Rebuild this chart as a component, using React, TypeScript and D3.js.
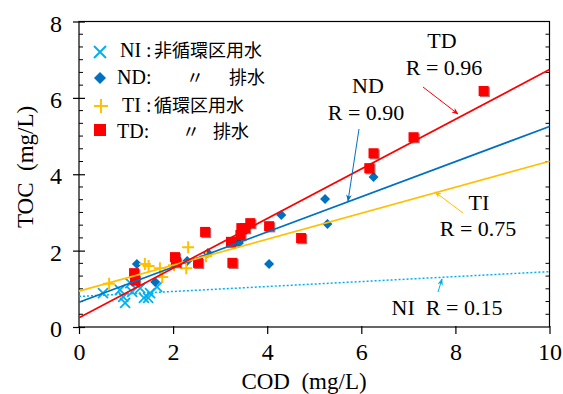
import React, { useEffect, useRef } from "react";
import * as d3 from "d3";

// COD (x) and TOC (y) readings, mg/L
const niCOD = [0.51, 0.87, 0.94, 0.98, 1.09, 1.13, 1.3, 1.38, 1.47, 1.51, 1.66];
const niTOC = [0.89, 0.97, 0.79, 0.63, 1.15, 0.92, 1.02, 0.76, 0.76, 0.89, 1.05];
const ndCOD = [1.23, 1.62, 2.3, 2.74, 3.4, 4.04, 4.3, 5.23, 5.28, 6.26];
const ndTOC = [1.65, 1.18, 1.73, 1.94, 2.2, 1.65, 2.93, 3.35, 2.7, 3.93];
const tiCOD = [0.64, 1.4, 1.48, 1.72, 1.77, 2.02, 2.28, 2.32, 2.7];
const tiTOC = [1.13, 1.65, 1.6, 1.54, 1.31, 1.62, 1.54, 2.09, 1.85];
const tdCOD = [1.17, 1.19, 2.04, 2.06, 2.53, 2.68, 3.23, 3.26, 3.43, 3.45, 3.53, 3.64, 4.04, 4.72, 6.17, 6.26, 7.11, 8.6];
const tdTOC = [1.41, 1.23, 1.83, 1.7, 1.68, 2.49, 2.23, 1.68, 2.41, 2.59, 2.59, 2.72, 2.64, 2.33, 4.16, 4.55, 4.97, 6.18];

// linear trend lines
const trendNames = ["NI", "ND", "TI", "TD"];
const trendSlope = [0.065, 0.46, 0.34, 0.65];
const trendIntercept = [0.8, 0.65, 0.94, 0.24];

const xTicks = [0, 2, 4, 6, 8, 10];
const yTicks = [0, 2, 4, 6, 8];

const COLORS: Record<string, string> = {
  NI: "#00B0F0",
  ND: "#0070C0",
  TI: "#FFC000",
  TD: "#FF0000",
};

const SERIF = "'Liberation Serif', 'Times New Roman', serif";
const CJK = "'Noto Sans CJK JP', 'Noto Sans CJK SC', sans-serif";

export default function App() {
  const ref = useRef<SVGSVGElement>(null);

  useEffect(() => {
    const width = 563,
      height = 394;
    const margin = { top: 21.5, right: 13.5, bottom: 67, left: 79 };

    const svg = d3.select(ref.current);
    svg.selectAll("*").remove();

    const x = d3.scaleLinear().domain([0, 10]).range([margin.left, width - margin.right]);
    const y = d3.scaleLinear().domain([0, 8]).range([height - margin.bottom, margin.top]);

    // frame
    svg
      .append("rect")
      .attr("x", x(0))
      .attr("y", y(8))
      .attr("width", x(10) - x(0))
      .attr("height", y(0) - y(8))
      .attr("fill", "none")
      .attr("stroke", "#000")
      .attr("stroke-width", 1.2);

    // minor ticks on left and right (inward)
    const minor = d3.range(0, 8, 1 / 3).filter((v) => Math.abs(v % 2) > 0.01 && Math.abs((v % 2) - 2) > 0.01);
    svg
      .append("g")
      .selectAll("line")
      .data(minor)
      .enter()
      .append("line")
      .attr("x1", x(0))
      .attr("x2", x(0) + 4)
      .attr("y1", (d) => y(d))
      .attr("y2", (d) => y(d))
      .attr("stroke", "#000");
    svg
      .append("g")
      .selectAll("line")
      .data(minor)
      .enter()
      .append("line")
      .attr("x1", x(10))
      .attr("x2", x(10) - 4)
      .attr("y1", (d) => y(d))
      .attr("y2", (d) => y(d))
      .attr("stroke", "#000");

    // y axis
    const yAxis = svg
      .append("g")
      .attr("transform", `translate(${x(0)},0)`)
      .call(d3.axisLeft(y).tickValues(yTicks).tickSize(6).tickFormat(d3.format("d")));
    yAxis.select(".domain").remove();
    yAxis.selectAll(".tick line").attr("x2", 6).attr("x1", -6).attr("stroke-width", 1.2);
    yAxis
      .selectAll(".tick text")
      .attr("x", -17)
      .attr("dy", "0.4em")
      .style("font-family", SERIF)
      .style("font-size", "24px")
      .attr("fill", "#000");

    // x axis
    const xAxis = svg
      .append("g")
      .attr("transform", `translate(0,${y(0)})`)
      .call(d3.axisBottom(x).tickValues(xTicks).tickSize(7).tickFormat(d3.format("d")));
    xAxis.select(".domain").remove();
    xAxis.selectAll(".tick line").attr("y1", -1).attr("stroke-width", 1.2);
    xAxis
      .selectAll(".tick text")
      .attr("y", 33)
      .attr("dy", 0)
      .style("font-family", SERIF)
      .style("font-size", "24px")
      .attr("fill", "#000");

    // axis titles
    svg
      .append("text")
      .attr("x", 304)
      .attr("y", 389)
      .attr("text-anchor", "middle")
      .style("font-family", SERIF)
      .style("font-size", "23px")
      .text("COD\u2002(mg/L)");
    svg
      .append("text")
      .attr("transform", `translate(33,167) rotate(-90)`)
      .attr("text-anchor", "middle")
      .style("font-family", SERIF)
      .style("font-size", "23px")
      .text("TOC\u2002(mg/L)");

    const plot = svg.append("g");

    // NI: crosses
    const xs = 5;
    plot
      .selectAll("path.ni")
      .data(niCOD)
      .enter()
      .append("path")
      .attr("class", "ni")
      .attr("d", (d, i) => {
        const cx = x(d),
          cy = y(niTOC[i]);
        return `M${cx - xs},${cy - xs}L${cx + xs},${cy + xs}M${cx - xs},${cy + xs}L${cx + xs},${cy - xs}`;
      })
      .attr("stroke", COLORS.NI)
      .attr("stroke-width", 1.8)
      .attr("fill", "none");

    // ND: diamonds
    const ds = 5;
    plot
      .selectAll("path.nd")
      .data(ndCOD)
      .enter()
      .append("path")
      .attr("class", "nd")
      .attr("d", (d, i) => {
        const cx = x(d),
          cy = y(ndTOC[i]);
        return `M${cx},${cy - ds}L${cx + ds},${cy}L${cx},${cy + ds}L${cx - ds},${cy}Z`;
      })
      .attr("fill", COLORS.ND);

    // TI: plus signs
    const ps = 6;
    plot
      .selectAll("path.ti")
      .data(tiCOD)
      .enter()
      .append("path")
      .attr("class", "ti")
      .attr("d", (d, i) => {
        const cx = x(d),
          cy = y(tiTOC[i]);
        return `M${cx - ps},${cy}L${cx + ps},${cy}M${cx},${cy - ps}L${cx},${cy + ps}`;
      })
      .attr("stroke", COLORS.TI)
      .attr("stroke-width", 2)
      .attr("fill", "none");

    // TD: squares with a little shadow
    const ss = 10;
    plot
      .selectAll("rect.tdshadow")
      .data(tdCOD)
      .enter()
      .append("rect")
      .attr("class", "tdshadow")
      .attr("x", (d) => x(d) - ss / 2 + 1.2)
      .attr("y", (d, i) => y(tdTOC[i]) - ss / 2 + 1.2)
      .attr("width", ss)
      .attr("height", ss)
      .attr("fill", "#7a1010")
      .attr("opacity", 0.6);
    plot
      .selectAll("rect.td")
      .data(tdCOD)
      .enter()
      .append("rect")
      .attr("class", "td")
      .attr("x", (d) => x(d) - ss / 2)
      .attr("y", (d, i) => y(tdTOC[i]) - ss / 2)
      .attr("width", ss)
      .attr("height", ss)
      .attr("fill", COLORS.TD);

    // trend lines
    const line = d3
      .line<number>()
      .x((d) => x(d))
      .y((d) => y(d));
    trendNames.forEach((name, i) => {
      const pts = [0, 10].map((c) => [c, trendIntercept[i] + trendSlope[i] * c]);
      plot
        .append("path")
        .attr(
          "d",
          d3
            .line<number[]>()
            .x((p) => x(p[0]))
            .y((p) => y(p[1]))(pts)
        )
        .attr("fill", "none")
        .attr("stroke", COLORS[name])
        .attr("stroke-width", name === "NI" ? 1.5 : 1.7)
        .attr("stroke-dasharray", name === "NI" ? "2,2" : null);
    });
    void line;

    // annotations (R labels with arrows)
    const defs = svg.append("defs");
    trendNames.forEach((name) => {
      defs
        .append("marker")
        .attr("id", "arr" + name)
        .attr("viewBox", "0 0 10 10")
        .attr("refX", 9)
        .attr("refY", 5)
        .attr("markerWidth", 7)
        .attr("markerHeight", 7)
        .attr("orient", "auto")
        .append("path")
        .attr("d", "M0,1L10,5L0,9L3,5Z")
        .attr("fill", COLORS[name]);
    });

    const arrows = [
      { name: "TD", x1: 423, y1: 87, x2: 458, y2: 114 },
      { name: "ND", x1: 359, y1: 129, x2: 348, y2: 201 },
      { name: "TI", x1: 463, y1: 213, x2: 435, y2: 192 },
      { name: "NI", x1: 438, y1: 292, x2: 442, y2: 279 },
    ];
    arrows.forEach((a) => {
      svg
        .append("line")
        .attr("x1", a.x1)
        .attr("y1", a.y1)
        .attr("x2", a.x2)
        .attr("y2", a.y2)
        .attr("stroke", COLORS[a.name])
        .attr("stroke-width", 1)
        .attr("marker-end", `url(#arr${a.name})`);
    });

    const labels = [
      { t: "TD", x: 442, y: 48 },
      { t: "R = 0.96", x: 444, y: 75 },
      { t: "ND", x: 368, y: 93 },
      { t: "R = 0.90", x: 366, y: 120 },
      { t: "TI", x: 479, y: 210 },
      { t: "R = 0.75", x: 478, y: 236 },
      { t: "NI\u2002R = 0.15", x: 447, y: 315 },
    ];
    svg
      .append("g")
      .selectAll("text")
      .data(labels)
      .enter()
      .append("text")
      .attr("x", (d) => d.x)
      .attr("y", (d) => d.y)
      .attr("text-anchor", "middle")
      .style("font-family", SERIF)
      .style("font-size", "22px")
      .text((d) => d.t);

    // legend
    const lg = svg.append("g");
    // NI cross
    lg.append("path")
      .attr("d", `M${100 - 6},${52 - 6}L${100 + 6},${52 + 6}M${100 - 6},${52 + 6}L${100 + 6},${52 - 6}`)
      .attr("stroke", COLORS.NI)
      .attr("stroke-width", 2);
    // ND diamond
    lg.append("path")
      .attr("d", `M100,${78 - 6}L106,78L100,${78 + 6}L94,78Z`)
      .attr("fill", COLORS.ND);
    // TI plus
    lg.append("path")
      .attr("d", `M94,106L108,106M101,99L101,113`)
      .attr("stroke", COLORS.TI)
      .attr("stroke-width", 2);
    // TD square
    lg.append("rect").attr("x", 94).attr("y", 124).attr("width", 12).attr("height", 12).attr("fill", COLORS.TD);

    const lt = [
      { t: "NI", x: 120, y: 57, f: SERIF },
      { t: ":", x: 146, y: 57, f: SERIF },
      { t: "非循環区用水", x: 154, y: 57, f: CJK },
      { t: "ND:", x: 117, y: 84, f: SERIF },
      { t: "〃", x: 186, y: 84, f: CJK },
      { t: "排水", x: 229, y: 84, f: CJK },
      { t: "TI", x: 122, y: 112, f: SERIF },
      { t: ":", x: 146, y: 112, f: SERIF },
      { t: "循環区用水", x: 154, y: 112, f: CJK },
      { t: "TD:", x: 117, y: 138, f: SERIF },
      { t: "〃", x: 182, y: 138, f: CJK },
      { t: "排水", x: 213, y: 138, f: CJK },
    ];
    lg.selectAll("text")
      .data(lt)
      .enter()
      .append("text")
      .attr("x", (d) => d.x)
      .attr("y", (d) => d.y)
      .style("font-family", (d) => d.f)
      .style("font-size", (d) => (d.f === CJK ? "18px" : "20px"))
      .text((d) => d.t);
  }, []);

  return (
    <svg
      ref={ref}
      width={563}
      height={394}
      style={{ position: "absolute", left: 0, top: 0, background: "#fff" }}
    />
  );
}
